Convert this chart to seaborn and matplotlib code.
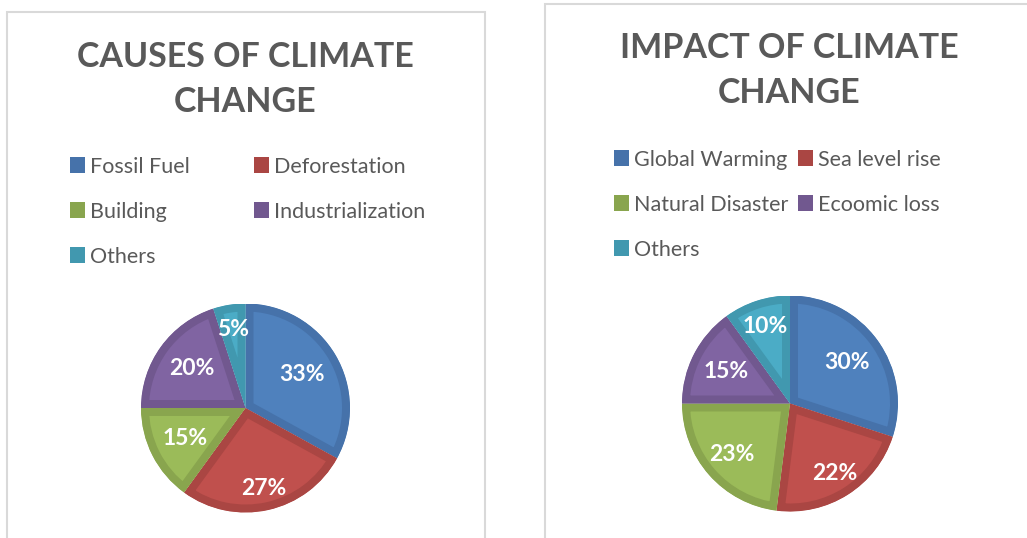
import matplotlib
matplotlib.use("Agg")
import matplotlib.pyplot as plt
import seaborn as sns
import numpy as np
from matplotlib.patches import Rectangle

# ---- data ----
causes_labels = ["Fossil Fuel", "Deforestation", "Building", "Industrialization", "Others"]
causes_values = [33, 27, 15, 20, 5]
impact_labels = ["Global Warming", "Sea level rise", "Natural Disaster", "Ecoomic loss", "Others"]
impact_values = [30, 22, 23, 15, 10]
titles = ["CAUSES OF CLIMATE\nCHANGE", "IMPACT OF CLIMATE\nCHANGE"]

sns.set_theme(style="white")
plt.rcParams["font.family"] = ["Lato", "DejaVu Sans"]

fill_colors = ["#4F81BD", "#C0504D", "#9BBB59", "#8064A2", "#4BACC6"]
edge_colors = ["#4672AA", "#AA4643", "#89A54E", "#71588F", "#4198AF"]
palette = sns.color_palette(fill_colors)

W, H = 1027, 538
fig = plt.figure(figsize=(W / 100, H / 100), dpi=100)
fig.patch.set_facecolor("white")

def fx(px):
    return px / W

def fy(py):
    return 1 - py / H

# panel borders
for (x0, y0, x1, y1) in [(7, 12, 485, 545), (545, 4, 1035, 545)]:
    fig.patches.append(Rectangle((fx(x0), fy(y1)), fx(x1 - x0), (y1 - y0) / H,
                                 transform=fig.transFigure, fill=False,
                                 edgecolor="#D9D9D9", linewidth=1.5, zorder=0))

panels = [
    dict(labels=causes_labels, values=causes_values, title=titles[0],
         cx=245.5, cy=408, r=104.5, tx=245, ty1=57, legx=[70, 254], legy=165,
         lab_dist=[0.63, 0.79, 0.65, 0.64, 0.76]),
    dict(labels=impact_labels, values=impact_values, title=titles[1],
         cx=790, cy=403.5, r=108, tx=789, ty1=48, legx=[614, 798], legy=158,
         lab_dist=[0.65, 0.77, 0.72, 0.66, 0.75]),
]

for p in panels:
    r = p["r"]
    ax = fig.add_axes([fx(p["cx"] - r), fy(p["cy"] + r), fx(2 * r), 2 * r / H])
    wedges, texts, autotexts = ax.pie(
        p["values"], colors=palette, startangle=90, counterclock=False,
        autopct=lambda v: f"{v:.0f}%", pctdistance=0.7,
        wedgeprops=dict(linewidth=11.5, edgecolor="none"),
        textprops=dict(color="white", fontsize=16.5, fontweight="bold"))
    for w, ec in zip(wedges, edge_colors):
        w.set_edgecolor(ec)
        w.set_clip_on(True)
        w.set_clip_path(w)
    for w, t, d in zip(wedges, autotexts, p["lab_dist"]):
        ang = np.deg2rad((w.theta1 + w.theta2) / 2)
        t.set_position((d * np.cos(ang), d * np.sin(ang)))
        t.set_zorder(5)
    ax.set_xlim(-1, 1)
    ax.set_ylim(-1, 1)
    ax.set_aspect("equal")
    ax.axis("off")

    # title (two lines)
    for k, line in enumerate(p["title"].split("\n")):
        fig.text(fx(p["tx"]), fy(p["ty1"] + 45 * k), line, ha="center", va="center",
                 fontsize=24.5, fontweight="bold", color="#595959")

    # legend
    for i, lab in enumerate(p["labels"]):
        row, col = divmod(i, 2)
        x = p["legx"][col]
        y = p["legy"] + 45 * row
        fig.patches.append(Rectangle((fx(x), fy(y + 7.5)), fx(15), 15 / H,
                                     transform=fig.transFigure,
                                     facecolor=edge_colors[i], edgecolor="none"))
        fig.text(fx(x + 20), fy(y), lab, ha="left", va="center_baseline",
                 fontsize=15.5, color="#595959")

fig.savefig("out.png", dpi=100)
